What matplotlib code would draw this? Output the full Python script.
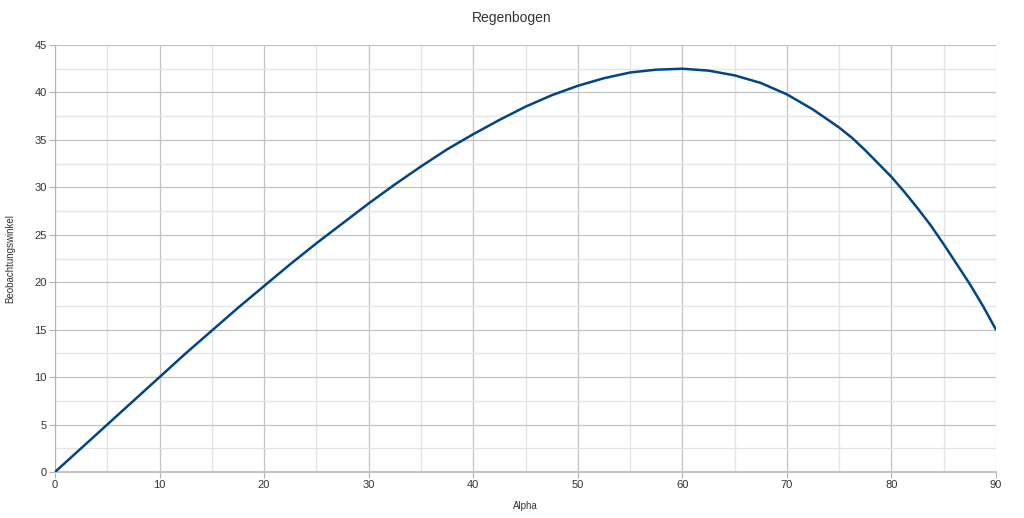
import matplotlib
matplotlib.use("Agg")
import matplotlib.pyplot as plt
from matplotlib.ticker import MultipleLocator

plt.rcParams['font.family'] = ['Liberation Sans', 'DejaVu Sans']

# values
alpha = [0, 2.5, 5, 7.5, 10, 12.5, 15, 17.5, 20, 22.5, 25, 27.5, 30, 32.5, 35, 37.5,
         40, 42.5, 45, 47.5, 50, 52.5, 55, 57.5, 60, 62.5, 65, 67.5, 70, 72.5, 75,
         76.25, 77.5, 78.75, 80, 81.25, 82.5, 83.75, 85, 86.25, 87.5, 88.75, 90]
winkel = [0, 2.5, 5.0, 7.5, 10.0, 12.5, 14.9, 17.3, 19.6, 21.9, 24.1, 26.2, 28.3, 30.3,
          32.2, 34.0, 35.6, 37.1, 38.5, 39.7, 40.7, 41.5, 42.1, 42.4, 42.5, 42.3, 41.8,
          41.0, 39.8, 38.2, 36.3, 35.2, 33.9, 32.5, 31.1, 29.5, 27.8, 26.0, 24.0, 21.9,
          19.8, 17.5, 15.0]

fig = plt.figure(figsize=(10.24, 5.18), dpi=100)
ax = fig.add_axes([55 / 1024, 46 / 518, 941 / 1024, 427 / 518])

ax.plot(alpha, winkel, color='#004586', lw=1.8, solid_joinstyle='round',
        solid_capstyle='round', zorder=3)

ax.set_xlim(0, 90)
ax.set_ylim(0, 45)
ax.xaxis.set_major_locator(MultipleLocator(10))
ax.xaxis.set_minor_locator(MultipleLocator(5))
ax.yaxis.set_major_locator(MultipleLocator(5))
ax.yaxis.set_minor_locator(MultipleLocator(2.5))
ax.grid(which='major', color='#c4c4c4', lw=0.9)
ax.grid(which='minor', color='#e4e4e4', lw=0.9)
ax.set_axisbelow(True)

for s in ['top', 'right']:
    ax.spines[s].set_visible(False)
ax.spines['left'].set_color('#b3b3b3')
ax.spines['bottom'].set_color('#c4c4c4')
ax.spines['bottom'].set_linewidth(1.5)

ax.tick_params(which='major', length=4, color='#b3b3b3', labelsize=8, labelcolor='#333333', pad=2)
ax.tick_params(which='minor', length=0)

ax.set_xlabel('Alpha', fontsize=7, color='#333333', labelpad=8)
ax.set_ylabel('Beobachtungswinkel', fontsize=7, color='#333333', labelpad=14)
fig.text(0.5, 1 - 18 / 518, 'Regenbogen', ha='center', va='center', fontsize=10, color='#333333')

fig.savefig('out.png', dpi=100)
